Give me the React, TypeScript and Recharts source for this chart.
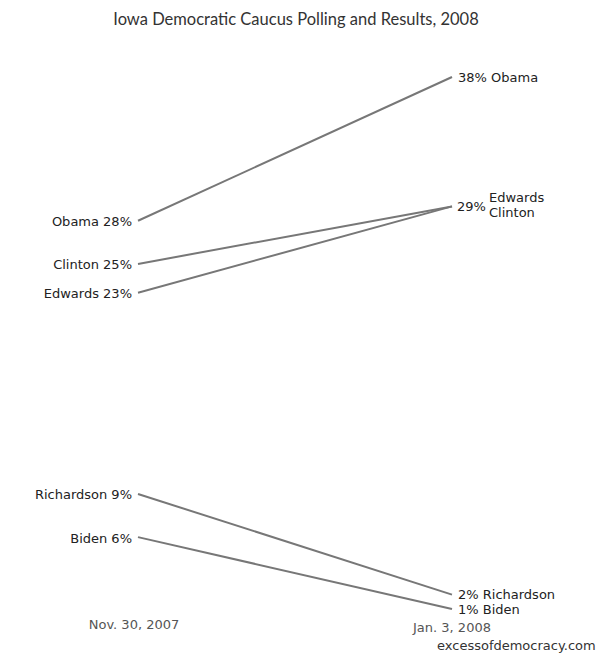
import React from 'react'
import { LineChart, Line, XAxis, YAxis, LabelList } from 'recharts'

const candidates = ['Obama', 'Clinton', 'Edwards', 'Richardson', 'Biden']
const nov30 = [28, 25, 23, 9, 6]
const jan3 = [38, 29, 29, 2, 1]
const dates = ['Nov. 30, 2007', 'Jan. 3, 2008']
const title = 'Iowa Democratic Caucus Polling and Results, 2008'
const credit = 'excessofdemocracy.com'

const data = [nov30, jan3].map((vals, t) => {
  const row: Record<string, number> = { t }
  candidates.forEach((c, i) => {
    row[c] = vals[i]
  })
  return row
})

if (typeof document !== 'undefined') document.body.style.margin = '0'

const FONT = '"DejaVu Sans", Verdana, sans-serif'
const TEXT = '#222'

function makeLabel(name: string) {
  return (props: any) => {
    const { x, y, index, value } = props
    if (index === 0) {
      return (
        <text x={x - 6} y={y + 5.5} textAnchor="end" fontSize={13} fontFamily={FONT} fill={TEXT}>
          {`${name} ${value}%`}
        </text>
      )
    }
    if (name === 'Clinton') return null
    if (name === 'Edwards') {
      return (
        <g fontSize={13} fontFamily={FONT} fill={TEXT}>
          <text x={x + 5} y={y + 5}>{`${value}%`}</text>
          <text x={x + 37} y={y - 4}>Edwards</text>
          <text x={x + 37} y={y + 11}>Clinton</text>
        </g>
      )
    }
    return (
      <text x={x + 6} y={y + 4.5} fontSize={13} fontFamily={FONT} fill={TEXT}>
        {`${value}% ${name}`}
      </text>
    )
  }
}

const DateTick = (props: any) => {
  const { x, y, payload } = props
  const i = payload.value
  return (
    <text
      x={i === 0 ? x - 4 : x}
      y={i === 0 ? y + 12 : y + 15}
      textAnchor="middle"
      fontSize={13}
      fontFamily={FONT}
      fill="#555"
    >
      {dates[i]}
    </text>
  )
}

export default function App() {
  return (
    <div style={{ position: 'relative', width: 602, height: 656, background: '#fff' }}>
      <div
        style={{
          position: 'absolute',
          top: 9,
          left: 0,
          width: 602,
          textAlign: 'center',
          paddingRight: 10,
          boxSizing: 'border-box',
          fontFamily: 'Lato, "Open Sans", sans-serif',
          fontSize: 16.5,
          color: '#333',
        }}
      >
        {title}
      </div>
      <LineChart
        width={602}
        height={656}
        data={data}
        margin={{ top: 77, right: 150, bottom: 17, left: 138 }}
      >
        <XAxis
          dataKey="t"
          type="number"
          domain={[0, 1]}
          ticks={[0, 1]}
          height={30}
          axisLine={false}
          tickLine={false}
          tick={<DateTick />}
        />
        <YAxis hide domain={[1, 38]} />
        {candidates.map((c) => (
          <Line
            key={c}
            dataKey={c}
            stroke="#777"
            strokeWidth={2}
            dot={false}
            isAnimationActive={false}
          >
            <LabelList dataKey={c} content={makeLabel(c)} />
          </Line>
        ))}
      </LineChart>
      <div
        style={{
          position: 'absolute',
          top: 638,
          left: 437,
          fontFamily: FONT,
          fontSize: 13,
          lineHeight: '16px',
          color: '#333',
        }}
      >
        {credit}
      </div>
    </div>
  )
}
